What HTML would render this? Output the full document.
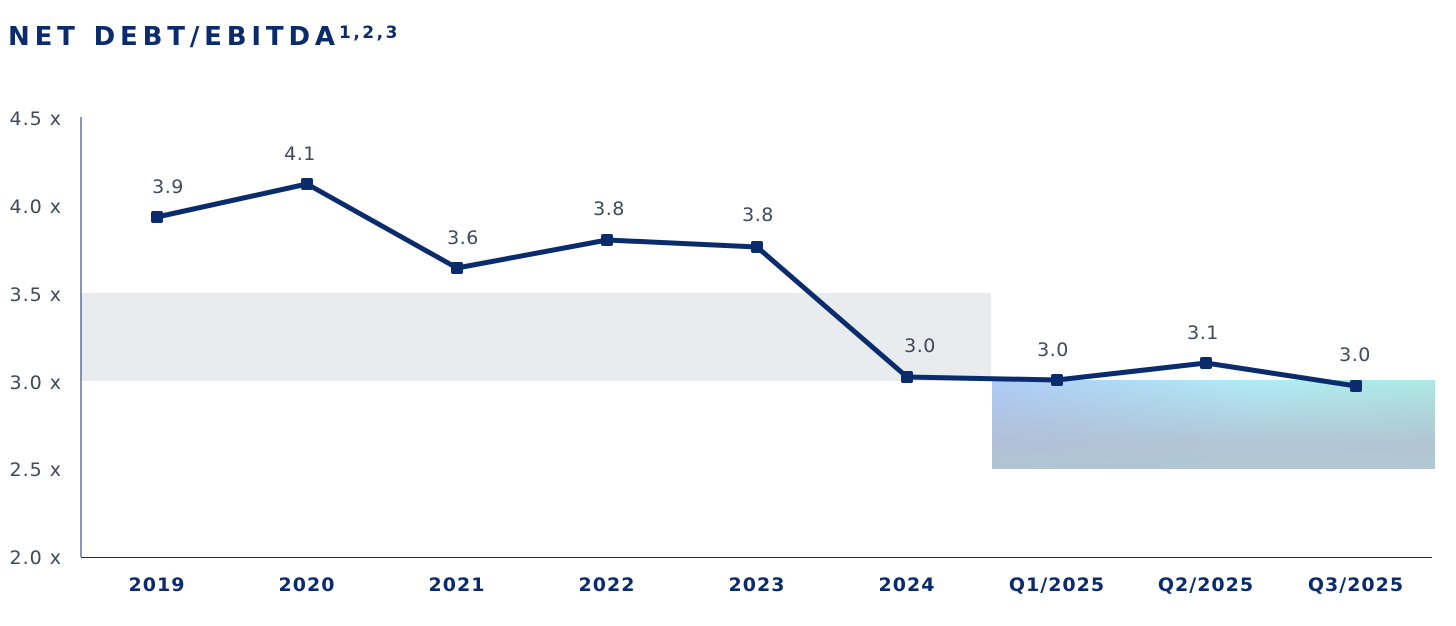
<!DOCTYPE html>
<html><head><meta charset="utf-8"><style>
body{margin:0;background:#fff;width:1456px;height:626px;overflow:hidden;font-family:"DejaVu Sans",sans-serif}
</style></head><body>
<svg width="1456" height="626" xmlns="http://www.w3.org/2000/svg" style="position:absolute;left:0;top:0">
<defs>
<linearGradient id="g1" x1="0" y1="0" x2="1" y2="0">
<stop offset="0" stop-color="#aecbf7"/><stop offset="0.6" stop-color="#b0ecf5"/><stop offset="1" stop-color="#ade9e3"/>
</linearGradient>
<linearGradient id="g2" x1="0" y1="0" x2="0" y2="1">
<stop offset="0" stop-color="#b2b9cc" stop-opacity="0"/><stop offset="0.7" stop-color="#b2bdcf" stop-opacity="0.8"/><stop offset="1" stop-color="#b1c4ce" stop-opacity="0.9"/>
</linearGradient>
</defs>
<text x="8" y="45" font-family="DejaVu Sans, sans-serif" font-weight="bold" font-size="26" fill="#0b2c6c" textLength="327" lengthAdjust="spacing">NET DEBT/EBITDA</text>
<text x="339" y="38" font-family="DejaVu Sans, sans-serif" font-weight="bold" font-size="17" fill="#0b2c6c" letter-spacing="2.5">1,2,3</text>
<rect x="81" y="293" width="910" height="88" fill="#e9ecef"/>
<rect x="992" y="380" width="443" height="89" fill="url(#g1)"/>
<rect x="992" y="380" width="443" height="89" fill="url(#g2)"/>
<line x1="81" y1="117" x2="81" y2="557" stroke="#0b2c6c" stroke-width="1"/>
<line x1="81" y1="557.5" x2="1432" y2="557.5" stroke="#0b2c6c" stroke-width="1"/>
<g font-family="DejaVu Sans, sans-serif" font-size="19" fill="#404a5a" text-anchor="end" letter-spacing="1">
<text x="62" y="125">4.5 x</text><text x="62" y="213">4.0 x</text><text x="62" y="301">3.5 x</text>
<text x="62" y="389">3.0 x</text><text x="62" y="476">2.5 x</text><text x="62" y="564">2.0 x</text>
</g>
<g font-family="DejaVu Sans, sans-serif" font-size="19" font-weight="bold" fill="#0b2c6c" text-anchor="middle" letter-spacing="1">
<text x="157" y="591">2019</text><text x="307" y="591">2020</text><text x="457" y="591">2021</text>
<text x="607" y="591">2022</text><text x="757" y="591">2023</text><text x="907" y="591">2024</text>
<text x="1057" y="591">Q1/2025</text><text x="1206" y="591">Q2/2025</text><text x="1356" y="591">Q3/2025</text>
</g>
<polyline fill="none" stroke="#0b2c6c" stroke-width="5" stroke-linejoin="round" points="157,217 307,184 457,268 607,240 757,247 907,377 1057,380 1206,363 1356,386"/>
<g fill="#0b2c6c">
<rect x="151" y="211" width="12" height="12" rx="2"/><rect x="301" y="178" width="12" height="12" rx="2"/>
<rect x="451" y="262" width="12" height="12" rx="2"/><rect x="601" y="234" width="12" height="12" rx="2"/>
<rect x="751" y="241" width="12" height="12" rx="2"/><rect x="901" y="371" width="12" height="12" rx="2"/>
<rect x="1051" y="374" width="12" height="12" rx="2"/><rect x="1200" y="357" width="12" height="12" rx="2"/>
<rect x="1350" y="380" width="12" height="12" rx="2"/>
</g>
<g font-family="DejaVu Sans, sans-serif" font-size="19" fill="#404a5a" text-anchor="middle" letter-spacing="0.5">
<text x="168" y="193">3.9</text><text x="300" y="160">4.1</text><text x="463" y="244">3.6</text>
<text x="609" y="215">3.8</text><text x="758" y="221">3.8</text><text x="920" y="352">3.0</text>
<text x="1053" y="356">3.0</text><text x="1203" y="339">3.1</text><text x="1355" y="361">3.0</text>
</g>
</svg>
</body></html>
